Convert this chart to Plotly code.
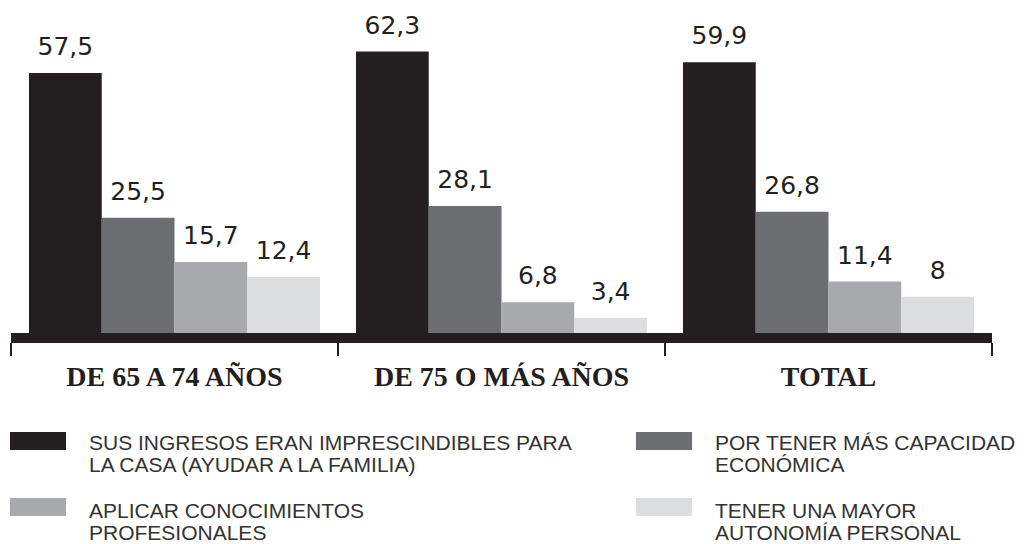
import plotly.graph_objects as go

# ---- data ----
categories = ["DE 65 A 74 AÑOS", "DE 75 O MÁS AÑOS", "TOTAL"]
series_names = [
    "SUS INGRESOS ERAN IMPRESCINDIBLES PARA<br>LA CASA (AYUDAR A LA FAMILIA)",
    "POR TENER MÁS CAPACIDAD<br>ECONÓMICA",
    "APLICAR CONOCIMIENTOS<br>PROFESIONALES",
    "TENER UNA MAYOR<br>AUTONOMÍA PERSONAL",
]
ingresos = [57.5, 62.3, 59.9]
capacidad = [25.5, 28.1, 26.8]
conocimientos = [15.7, 6.8, 11.4]
autonomia = [12.4, 3.4, 8.0]
series_values = [ingresos, capacidad, conocimientos, autonomia]
colors = ["#231f20", "#6d6e71", "#a7a9ac", "#dcddde"]

# ---- layout geometry (pixels) ----
W, H = 1032, 544
ML, MR, MT, MB = 11, 40, 20, 211
PW = W - ML - MR
PH = H - MT - MB


def px_x(px):
    return (px - ML) / PW


def px_y(py):
    return (H - MB - py) / PH


def fmt(v):
    return f"{v:g}".replace(".", ",")


fig = go.Figure()
for name, vals, col in zip(series_names, series_values, colors):
    fig.add_trace(go.Bar(
        x=categories, y=vals, name=name.replace("<br>", " "),
        marker=dict(color=col, line=dict(width=0)),
        showlegend=False,
    ))
for name, vals in zip(series_names, series_values):
    fig.add_trace(go.Scatter(
        x=categories, y=vals, mode="markers+text",
        text=[fmt(v) for v in vals], textposition="top center",
        textfont=dict(family="DejaVu Sans", size=25, color="#231f20"),
        marker=dict(size=17, opacity=0),
        cliponaxis=False, showlegend=False, hoverinfo="skip",
    ))

shapes = []
annotations = []
sw_x = [10, 636]
txt_x = [87, 713]
sw_top = [432, 498]
line_c = [[442, 464.5], [510, 532.5]]
for i, (name, col) in enumerate(zip(series_names, colors)):
    c, r = i % 2, i // 2
    shapes.append(dict(
        type="rect", xref="paper", yref="paper",
        x0=px_x(sw_x[c]), x1=px_x(sw_x[c] + 56),
        y0=px_y(sw_top[r]), y1=px_y(sw_top[r] + 18),
        fillcolor=col, line=dict(width=0),
    ))
    for j, line in enumerate(name.split("<br>")):
        annotations.append(dict(
            text=line, xref="paper", yref="paper",
            x=px_x(txt_x[c]), y=px_y(line_c[r][j]),
            xanchor="left", yanchor="middle", showarrow=False,
            font=dict(family="Liberation Sans, Arial", size=21, color="#333333"),
        ))

fig.update_layout(
    width=W, height=H,
    margin=dict(l=ML, r=MR, t=MT, b=MB, pad=0),
    paper_bgcolor="white", plot_bgcolor="white",
    barmode="group", bargap=0.11, bargroupgap=0,
    scattermode="group",
    separators=",.",
    shapes=shapes, annotations=annotations,
    xaxis=dict(
        type="category", showline=True, linewidth=10, linecolor="#231f20",
        ticks="outside", tickson="boundaries", ticklen=13, tickwidth=2,
        tickcolor="#231f20", showgrid=False, zeroline=False,
        tickfont=dict(family="Liberation Serif, Times New Roman", size=28,
                      color="#231f20", weight="bold"),
        ticklabelstandoff=9,
        range=[-0.5, 2.5],
    ),
    yaxis=dict(range=[0, PH / 4.52], visible=False, showgrid=False,
               zeroline=False),
)

fig.write_html(
    "out.html",
    config={"displayModeBar": False},
    post_script="document.body.style.margin='0';document.body.style.padding='0';",
)
